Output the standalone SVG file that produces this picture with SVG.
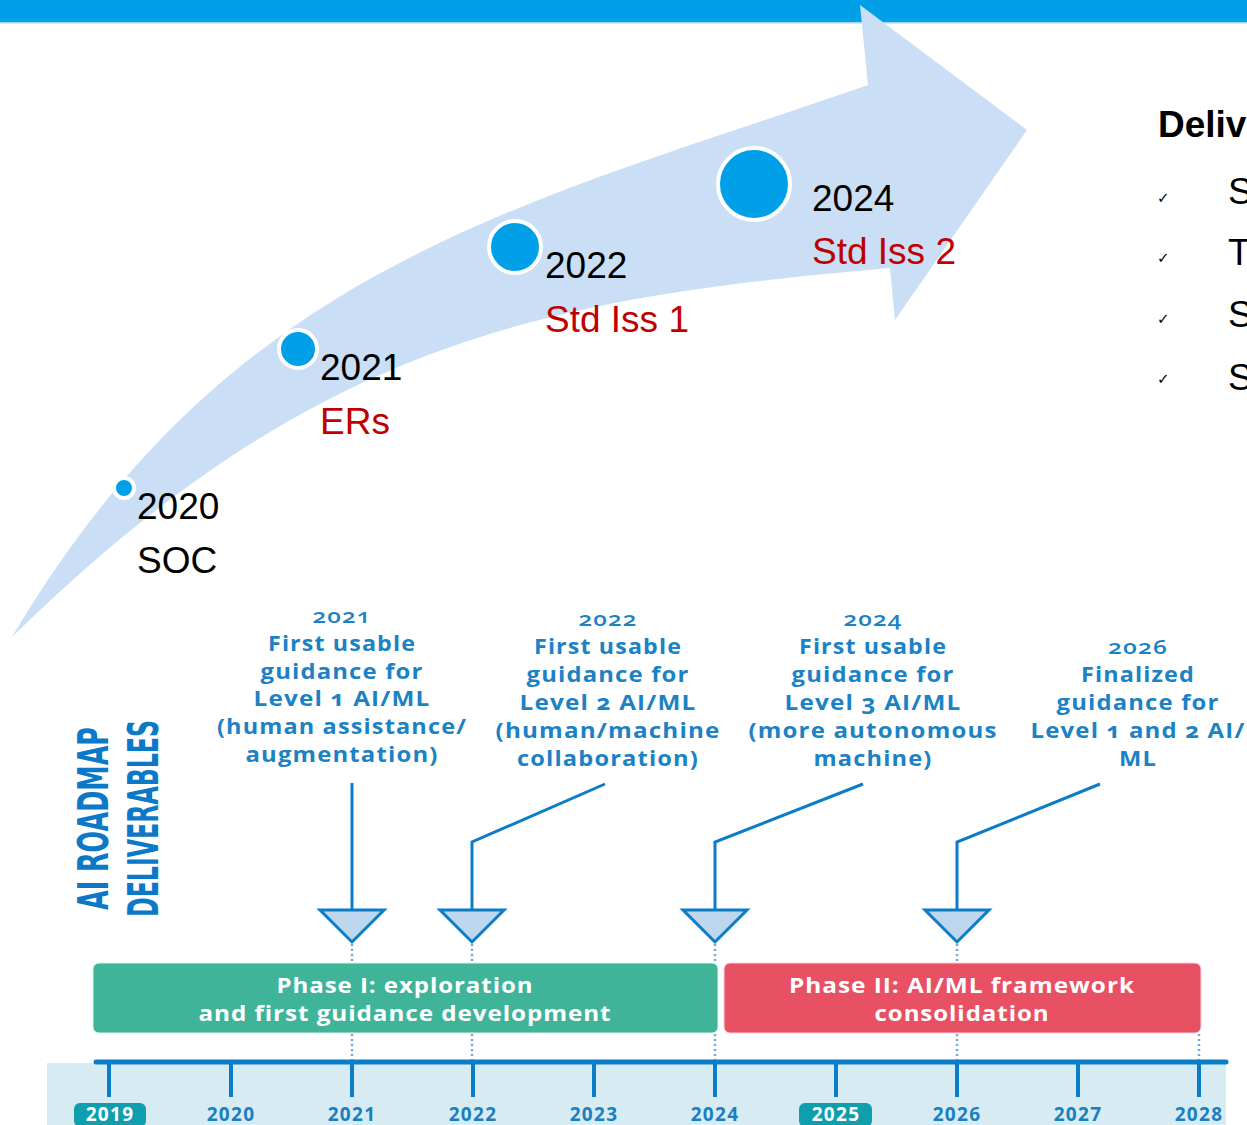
<svg xmlns="http://www.w3.org/2000/svg" width="1247" height="1125" viewBox="0 0 1247 1125">
<defs>
<style>
.big{font-family:"Liberation Sans",Arial,sans-serif;font-size:37px;fill:#000}
.red{fill:#C00000}
.lbl{font-family:"Open Sans","DejaVu Sans",sans-serif;font-weight:700;font-size:20.5px;letter-spacing:1px;fill:#1B82C5;text-anchor:middle;font-variant-numeric:oldstyle-nums}
.yr{font-weight:600}
.ph{font-family:"Open Sans","DejaVu Sans",sans-serif;font-weight:700;font-size:20.5px;letter-spacing:0.8px;fill:#fff;text-anchor:middle}
.ax{font-family:"Open Sans","DejaVu Sans",sans-serif;font-weight:700;font-size:19px;letter-spacing:1.3px;fill:#1A7FC1;text-anchor:middle}
.axw{fill:#fff}
.vt{font-family:"Liberation Sans Narrow","DejaVu Sans Condensed","Liberation Sans",sans-serif;font-weight:700;font-size:42px;fill:#0B79C8;text-anchor:middle}
.dot{fill:#00A0E9;stroke:#fff;stroke-width:4}
.conn{fill:none;stroke:#0A7CC8;stroke-width:3}
.tri{fill:#BDD7EE;stroke:#0A7CC8;stroke-width:3;stroke-linejoin:miter}
.dash{stroke:#6FA8DC;stroke-width:2.5;stroke-dasharray:2 3}
.tick{stroke:#0A7CC8;stroke-width:4}
.chk{font-family:"DejaVu Sans",sans-serif;font-size:15px;fill:#000}
</style>
</defs>
<rect x="0" y="0" width="1247" height="22" fill="#00A0E9"/>
<rect x="0" y="22" width="1247" height="1.5" fill="#9BD8F3"/>

<g id="arrow">
<path d="M12,637 C232,265 518,207 868,85 L860,5 L1027,130 L895,320 L890,268 C540,298 312,343 12,637 Z" fill="#CADFF5"/>
</g>

<g id="m2020"><circle class="dot" cx="124" cy="488" r="10"/><text class="big" x="137" y="519">2020</text><text class="big" x="137" y="573">SOC</text></g>
<g id="m2021"><circle class="dot" cx="298" cy="349" r="19"/><text class="big" x="320" y="380">2021</text><text class="big red" x="320" y="434">ERs</text></g>
<g id="m2022"><circle class="dot" cx="515" cy="247" r="26"/><text class="big" x="545" y="278">2022</text><text class="big red" x="545" y="332">Std Iss 1</text></g>
<g id="m2024"><circle class="dot" cx="754" cy="184" r="36"/><text class="big" x="812" y="211">2024</text><text class="big red" x="812" y="264">Std Iss 2</text></g>

<g id="deliverables">
<text class="big" x="1158" y="137" font-weight="700">Deliv</text>
<text class="chk" x="1157" y="203">✓</text><text class="big" x="1228" y="204">S</text>
<text class="chk" x="1157" y="263">✓</text><text class="big" x="1228" y="265">T</text>
<text class="chk" x="1157" y="324">✓</text><text class="big" x="1228" y="327">S</text>
<text class="chk" x="1157" y="384">✓</text><text class="big" x="1228" y="390">S</text>
</g>

<g id="title">
<text class="vt" transform="translate(108,818.5) rotate(-90)" textLength="183" lengthAdjust="spacingAndGlyphs">AI ROADMAP</text>
<text class="vt" transform="translate(158,818.5) rotate(-90)" textLength="197" lengthAdjust="spacingAndGlyphs">DELIVERABLES</text>
</g>

<g id="label2021">
<text x="342" y="623" class="lbl yr" textLength="59" lengthAdjust="spacingAndGlyphs">2021</text>
<text x="342" y="651" class="lbl" textLength="148" lengthAdjust="spacingAndGlyphs">First usable</text>
<text x="342" y="679" class="lbl" textLength="163" lengthAdjust="spacingAndGlyphs">guidance for</text>
<text x="342" y="706" class="lbl" textLength="177" lengthAdjust="spacingAndGlyphs">Level 1 AI/ML</text>
<text x="342" y="734" class="lbl" textLength="250" lengthAdjust="spacingAndGlyphs">(human assistance/</text>
<text x="342" y="762" class="lbl" textLength="193" lengthAdjust="spacingAndGlyphs">augmentation)</text>
</g>
<g id="label2022">
<text x="608" y="626" class="lbl yr" textLength="59" lengthAdjust="spacingAndGlyphs">2022</text>
<text x="608" y="654" class="lbl" textLength="148" lengthAdjust="spacingAndGlyphs">First usable</text>
<text x="608" y="682" class="lbl" textLength="163" lengthAdjust="spacingAndGlyphs">guidance for</text>
<text x="608" y="710" class="lbl" textLength="177" lengthAdjust="spacingAndGlyphs">Level 2 AI/ML</text>
<text x="608" y="738" class="lbl" textLength="225" lengthAdjust="spacingAndGlyphs">(human/machine</text>
<text x="608" y="766" class="lbl" textLength="182" lengthAdjust="spacingAndGlyphs">collaboration)</text>
</g>
<g id="label2024">
<text x="873" y="626" class="lbl yr" textLength="59" lengthAdjust="spacingAndGlyphs">2024</text>
<text x="873" y="654" class="lbl" textLength="148" lengthAdjust="spacingAndGlyphs">First usable</text>
<text x="873" y="682" class="lbl" textLength="163" lengthAdjust="spacingAndGlyphs">guidance for</text>
<text x="873" y="710" class="lbl" textLength="177" lengthAdjust="spacingAndGlyphs">Level 3 AI/ML</text>
<text x="873" y="738" class="lbl" textLength="249" lengthAdjust="spacingAndGlyphs">(more autonomous</text>
<text x="873" y="766" class="lbl" textLength="119" lengthAdjust="spacingAndGlyphs">machine)</text>
</g>
<g id="label2026">
<text x="1138" y="654" class="lbl yr" textLength="60" lengthAdjust="spacingAndGlyphs">2026</text>
<text x="1138" y="682" class="lbl" textLength="114" lengthAdjust="spacingAndGlyphs">Finalized</text>
<text x="1138" y="710" class="lbl" textLength="163" lengthAdjust="spacingAndGlyphs">guidance for</text>
<text x="1138" y="738" class="lbl" textLength="215" lengthAdjust="spacingAndGlyphs">Level 1 and 2 AI/</text>
<text x="1138" y="766" class="lbl" textLength="38" lengthAdjust="spacingAndGlyphs">ML</text>
</g>

<g id="band">
<rect x="47" y="1063" width="1179" height="62" fill="#D6ECF2"/>
</g>

<g id="connectors">
<line class="dash" x1="352" y1="944" x2="352" y2="1060"/>
<line class="dash" x1="472" y1="944" x2="472" y2="1060"/>
<line class="dash" x1="715" y1="944" x2="715" y2="1060"/>
<line class="dash" x1="957" y1="944" x2="957" y2="1060"/>
<line class="dash" x1="1199" y1="1034" x2="1199" y2="1060"/>
<path class="conn" d="M352,783 L352,910"/>
<path class="conn" d="M605,784 L472,842 L472,910"/>
<path class="conn" d="M863,784 L715,842 L715,910"/>
<path class="conn" d="M1100,784 L957,842 L957,910"/>
<polygon class="tri" points="320,910 384,910 352,942"/>
<polygon class="tri" points="440,910 504,910 472,942"/>
<polygon class="tri" points="683,910 747,910 715,942"/>
<polygon class="tri" points="925,910 989,910 957,942"/>
</g>

<g id="phase1">
<rect x="93" y="963" width="625" height="70" rx="6" fill="#40B498" stroke="#DDF1EB" stroke-width="1"/>
<text class="ph" x="405" y="993" textLength="257" lengthAdjust="spacingAndGlyphs">Phase I: exploration</text>
<text class="ph" x="405" y="1021" textLength="413" lengthAdjust="spacingAndGlyphs">and first guidance development</text>
</g>
<g id="phase2">
<rect x="724" y="963" width="477" height="70" rx="6" fill="#E85163" stroke="#F6D3D8" stroke-width="1"/>
<text class="ph" x="962" y="993" textLength="346" lengthAdjust="spacingAndGlyphs">Phase II: AI/ML framework</text>
<text class="ph" x="962" y="1021" textLength="175" lengthAdjust="spacingAndGlyphs">consolidation</text>
</g>

<g id="timeline">
<line x1="96" y1="1062" x2="1226" y2="1062" stroke="#0A7CC8" stroke-width="5" stroke-linecap="round"/>
<line class="tick" x1="109" y1="1062" x2="109" y2="1097"/>
<line class="tick" x1="231" y1="1062" x2="231" y2="1097"/>
<line class="tick" x1="352" y1="1062" x2="352" y2="1097"/>
<line class="tick" x1="473" y1="1062" x2="473" y2="1097"/>
<line class="tick" x1="594" y1="1062" x2="594" y2="1097"/>
<line class="tick" x1="715" y1="1062" x2="715" y2="1097"/>
<line class="tick" x1="836" y1="1062" x2="836" y2="1097"/>
<line class="tick" x1="957" y1="1062" x2="957" y2="1097"/>
<line class="tick" x1="1078" y1="1062" x2="1078" y2="1097"/>
<line class="tick" x1="1199" y1="1062" x2="1199" y2="1097"/>
<rect x="74" y="1103" width="72" height="24" rx="6" fill="#0E9EAE"/>
<rect x="799" y="1103" width="73" height="24" rx="6" fill="#0E9EAE"/>
<text class="ax axw" x="110" y="1121">2019</text>
<text class="ax" x="231" y="1121">2020</text>
<text class="ax" x="352" y="1121">2021</text>
<text class="ax" x="473" y="1121">2022</text>
<text class="ax" x="594" y="1121">2023</text>
<text class="ax" x="715" y="1121">2024</text>
<text class="ax axw" x="836" y="1121">2025</text>
<text class="ax" x="957" y="1121">2026</text>
<text class="ax" x="1078" y="1121">2027</text>
<text class="ax" x="1199" y="1121">2028</text>
</g>
</svg>
